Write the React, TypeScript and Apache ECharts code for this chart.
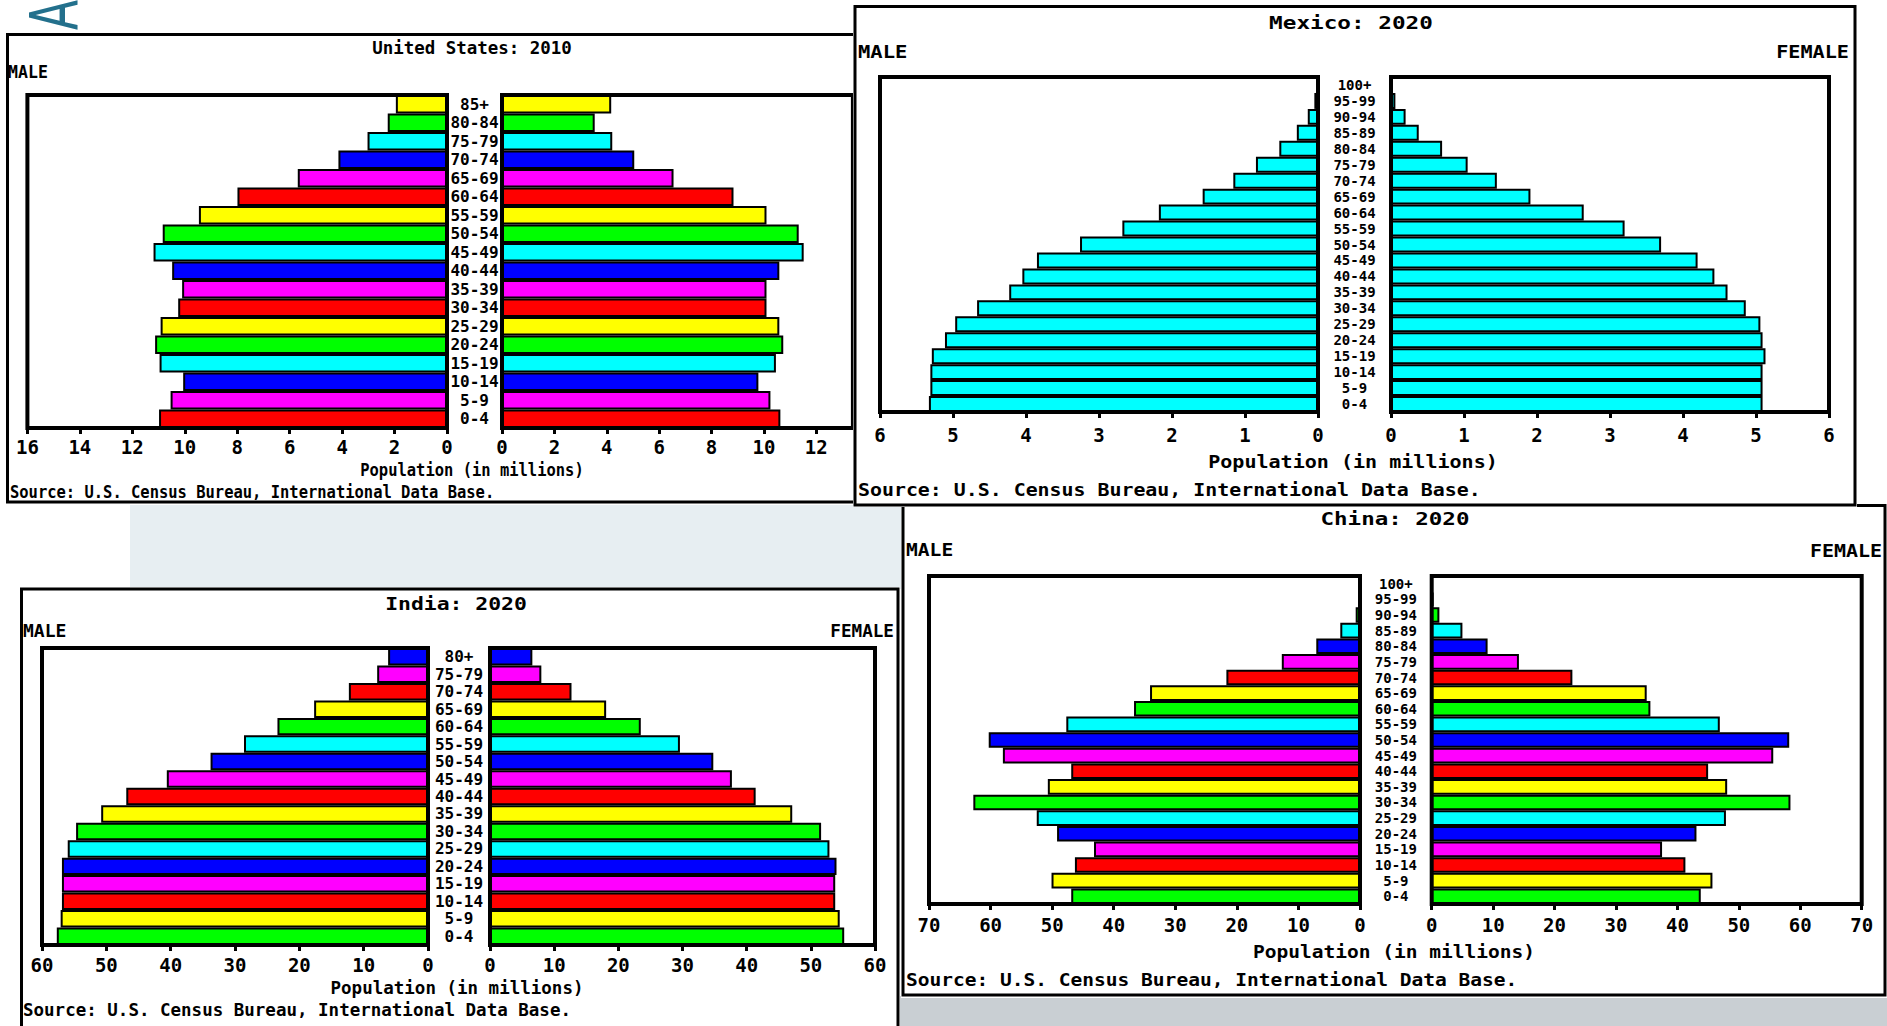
import React, { useEffect, useRef } from "react";
import * as echarts from "echarts";

const FONT = "'DejaVu Sans Mono', 'Liberation Mono', monospace";

// ---------------- DATA ----------------
const AGES_US = ["0-4", "5-9", "10-14", "15-19", "20-24", "25-29", "30-34", "35-39", "40-44", "45-49", "50-54", "55-59", "60-64", "65-69", "70-74", "75-79", "80-84", "85+"];
const US_MALE = [10.98, 10.54, 10.06, 10.96, 11.13, 10.92, 10.25, 10.1, 10.48, 11.19, 10.84, 9.46, 7.99, 5.69, 4.14, 3.03, 2.26, 1.95];
const US_FEMALE = [10.63, 10.25, 9.79, 10.46, 10.74, 10.59, 10.1, 10.1, 10.59, 11.52, 11.33, 10.1, 8.84, 6.55, 5.05, 4.21, 3.54, 4.17];

const AGES_21 = ["0-4", "5-9", "10-14", "15-19", "20-24", "25-29", "30-34", "35-39", "40-44", "45-49", "50-54", "55-59", "60-64", "65-69", "70-74", "75-79", "80-84", "85-89", "90-94", "95-99", "100+"];
const MX_MALE = [5.33, 5.31, 5.31, 5.29, 5.11, 4.97, 4.67, 4.23, 4.05, 3.85, 3.26, 2.68, 2.18, 1.58, 1.16, 0.85, 0.53, 0.29, 0.14, 0.05, 0.02];
const MX_FEMALE = [5.09, 5.09, 5.09, 5.13, 5.09, 5.06, 4.86, 4.61, 4.43, 4.2, 3.7, 3.2, 2.64, 1.91, 1.45, 1.05, 0.7, 0.38, 0.2, 0.06, 0.02];

const AGES_IN = ["0-4", "5-9", "10-14", "15-19", "20-24", "25-29", "30-34", "35-39", "40-44", "45-49", "50-54", "55-59", "60-64", "65-69", "70-74", "75-79", "80+"];
const IN_MALE = [57.7, 57.1, 56.9, 56.9, 56.9, 56.0, 54.7, 50.8, 46.9, 40.6, 33.8, 28.6, 23.4, 17.7, 12.3, 7.9, 6.2];
const IN_FEMALE = [55.2, 54.5, 53.8, 53.8, 54.0, 52.9, 51.6, 47.1, 41.4, 37.7, 34.8, 29.6, 23.5, 18.1, 12.7, 8.0, 6.6];

const CN_MALE = [46.9, 50.1, 46.3, 43.2, 49.2, 52.5, 62.8, 50.7, 46.9, 58.0, 60.3, 47.7, 36.7, 34.1, 21.7, 12.7, 7.1, 3.2, 0.7, 0.1, 0];
const CN_FEMALE = [43.8, 45.7, 41.3, 37.5, 43.1, 47.9, 58.4, 48.1, 45.0, 55.6, 58.2, 46.9, 35.6, 35.0, 22.9, 14.2, 9.1, 5.0, 1.25, 0.3, 0.05];

const TITLES = ["United States: 2010", "Mexico: 2020", "India: 2020", "China: 2020"];
const AXIS_MAX = [16, 6, 60, 70];
// the US female axis is cropped by the Mexico panel: only 0..13.4 is visible
const AXIS_MAX_FEMALE = [13.4, 6, 60, 70];
const AXIS_STEP = [2, 1, 10, 10];
const SOURCE = "Source: U.S. Census Bureau, International Data Base.";
const POP_LABEL = "Population (in millions)";

const RAINBOW = ["#ff0000", "#ff00ff", "#0000ff", "#00ffff", "#00ff00", "#ffff00"];

type Panel = {
  left: number; top: number; width: number; height: number;
  border: [number, number, number, number];
  title: string; titleX: number; titleY: number; titleSX: number;
  maleX: number; labelY: number; maleSX: number; femaleX?: number; femaleSX?: number;
  gTop: number; gHeight: number; mLeft: number; mWidth: number; fLeft: number; fWidth: number;
  max: number; fMax: number; step: number; tickMargin: number; ageFont: number;
  ages: string[]; male: number[]; female: number[]; colors: string[];
  popX: number; popY: number; popSX: number; srcX: number; srcY: number; srcSX: number;
};

const US_UNIT = 419 / 16;

const PANELS: Panel[] = [
  {
    left: 6, top: 33, width: 960, height: 472, border: [1.5, 1.5, 955, 467.5],
    title: TITLES[0], titleX: 466, titleY: 15, titleSX: 0.97,
    maleX: 2, labelY: 39, maleSX: 0.92,
    gTop: 62, gHeight: 333, mLeft: 21.4, mWidth: 419.6, fLeft: 496, fWidth: US_UNIT * AXIS_MAX_FEMALE[0],
    max: AXIS_MAX[0], fMax: AXIS_MAX_FEMALE[0], step: AXIS_STEP[0], tickMargin: 9, ageFont: 16,
    ages: AGES_US, male: US_MALE, female: US_FEMALE, colors: AGES_US.map((_, i) => RAINBOW[i % 6]),
    popX: 466, popY: 437, popSX: 0.91, srcX: 4, srcY: 459, srcSX: 0.91,
  },
  {
    left: 853, top: 4, width: 1004, height: 503, border: [2, 2.5, 1000, 498.5],
    title: TITLES[1], titleX: 498, titleY: 19, titleSX: 1.26,
    maleX: 5, labelY: 48, maleSX: 1.14, femaleX: 996, femaleSX: 1.12,
    gTop: 73, gHeight: 335, mLeft: 27, mWidth: 438, fLeft: 538, fWidth: 438,
    max: AXIS_MAX[1], fMax: AXIS_MAX_FEMALE[1], step: AXIS_STEP[1], tickMargin: 13, ageFont: 14,
    ages: AGES_21, male: MX_MALE, female: MX_FEMALE, colors: AGES_21.map(() => "#00ffff"),
    popX: 500, popY: 458, popSX: 1.18, srcX: 5, srcY: 486, srcSX: 1.17,
  },
  {
    left: 20, top: 587, width: 880, height: 439, border: [1.5, 2, 876.5, 500],
    title: TITLES[2], titleX: 436, titleY: 17.5, titleSX: 1.19,
    maleX: 3, labelY: 43, maleSX: 1.0, femaleX: 874, femaleSX: 0.98,
    gTop: 61, gHeight: 297, mLeft: 22, mWidth: 386, fLeft: 470, fWidth: 385,
    max: AXIS_MAX[2], fMax: AXIS_MAX_FEMALE[2], step: AXIS_STEP[2], tickMargin: 10, ageFont: 16,
    ages: AGES_IN, male: IN_MALE, female: IN_FEMALE, colors: AGES_IN.map((_, i) => RAINBOW[(i + 4) % 6]),
    popX: 437, popY: 401, popSX: 1.03, srcX: 3, srcY: 423, srcSX: 1.03,
  },
  {
    left: 901, top: 504, width: 986, height: 494, border: [2, 1.5, 982, 489.5],
    title: TITLES[3], titleX: 494, titleY: 14.5, titleSX: 1.25,
    maleX: 5, labelY: 46, maleSX: 1.09, femaleX: 981, femaleSX: 1.11,
    gTop: 72, gHeight: 328, mLeft: 28, mWidth: 431, fLeft: 530.7, fWidth: 430,
    max: AXIS_MAX[3], fMax: AXIS_MAX_FEMALE[3], step: AXIS_STEP[3], tickMargin: 11, ageFont: 14,
    ages: AGES_21, male: CN_MALE, female: CN_FEMALE, colors: AGES_21.map((_, i) => RAINBOW[(i + 4) % 6]),
    popX: 493, popY: 448, popSX: 1.15, srcX: 5, srcY: 476, srcSX: 1.15,
  },
];

function txt(t: string, x: number, y: number, size: number, sx: number, align: string = "center") {
  return {
    type: "text", x, y, scaleX: sx, silent: true, z: 50,
    style: {
      text: t, font: `bold ${size}px ${FONT}`, fill: "#000",
      textAlign: align, textVerticalAlign: "middle", verticalAlign: "middle",
    },
  };
}

function buildOption(p: Panel): any {
  const gap = p.fLeft - (p.mLeft + p.mWidth);
  const gridBase = { show: true, borderColor: "#000", borderWidth: 4, backgroundColor: "transparent", top: p.gTop, height: p.gHeight };
  const xAxisBase = (gridIndex: number, inverse: boolean, max: number) => {
    const aligned = Math.abs(max / p.step - Math.round(max / p.step)) < 1e-9;
    return {
      type: "value", gridIndex, min: 0, max, interval: p.step, inverse,
      axisLine: { show: false },
      axisTick: { show: true, length: 6, lineStyle: { color: "#000", width: 3 } },
      splitLine: { show: false },
      axisLabel: { show: true, color: "#000", fontFamily: FONT, fontWeight: "bold", fontSize: 19, margin: p.tickMargin, showMinLabel: true, showMaxLabel: aligned },
    };
  };
  const graphics: any[] = [
    { type: "rect", shape: { x: p.border[0], y: p.border[1], width: p.border[2], height: p.border[3] }, style: { fill: "none", stroke: "#000", lineWidth: 3 }, silent: true, z: 40 },
    txt(p.title, p.titleX, p.titleY, 18, p.titleSX),
    txt("MALE", p.maleX, p.labelY, 18, p.maleSX, "left"),
    txt(POP_LABEL, p.popX, p.popY, 17, p.popSX),
    txt(SOURCE, p.srcX, p.srcY, 17, p.srcSX, "left"),
  ];
  if (p.femaleX !== undefined) graphics.push(txt("FEMALE", p.femaleX, p.labelY, 18, p.femaleSX || 1, "right"));
  const barStyle = (vals: number[]) => vals.map((v, i) => ({ value: v, itemStyle: { color: p.colors[i] } }));
  return {
    animation: false,
    textStyle: { fontFamily: FONT },
    grid: [
      { ...gridBase, left: p.mLeft, width: p.mWidth },
      { ...gridBase, left: p.fLeft, width: p.fWidth },
    ],
    xAxis: [xAxisBase(0, true, p.max), xAxisBase(1, false, p.fMax)],
    yAxis: [
      {
        type: "category", gridIndex: 0, data: p.ages, position: "right",
        axisLine: { show: false }, axisTick: { show: false }, splitLine: { show: false },
        axisLabel: { show: true, interval: 0, align: "center", margin: gap / 2, color: "#000", fontFamily: FONT, fontWeight: "bold", fontSize: p.ageFont },
      },
      {
        type: "category", gridIndex: 1, data: p.ages,
        axisLine: { show: false }, axisTick: { show: false }, splitLine: { show: false }, axisLabel: { show: false },
      },
    ],
    series: [
      { type: "bar", name: "Male", xAxisIndex: 0, yAxisIndex: 0, data: barStyle(p.male), barCategoryGap: "0%", silent: true, itemStyle: { borderColor: "#000", borderWidth: 2 } },
      { type: "bar", name: "Female", xAxisIndex: 1, yAxisIndex: 1, data: barStyle(p.female), barCategoryGap: "0%", silent: true, itemStyle: { borderColor: "#000", borderWidth: 2 } },
    ],
    graphic: graphics,
  };
}

function PanelChart({ p, z }: { p: Panel; z: number }) {
  const ref = useRef<HTMLDivElement>(null);
  useEffect(() => {
    const chart = echarts.init(ref.current as HTMLDivElement, undefined, { renderer: "svg" });
    chart.setOption(buildOption(p));
    return () => chart.dispose();
  }, []);
  return <div ref={ref} style={{ position: "absolute", left: p.left, top: p.top, width: p.width, height: p.height, background: "#fff", zIndex: z }} />;
}

function Background() {
  const ref = useRef<HTMLDivElement>(null);
  useEffect(() => {
    const chart = echarts.init(ref.current as HTMLDivElement, undefined, { renderer: "svg" });
    chart.setOption({
      animation: false,
      graphic: [
        { type: "rect", shape: { x: 130, y: 503, width: 775, height: 86 }, style: { fill: "#e7eef2" }, silent: true },
        { type: "rect", shape: { x: 898, y: 996, width: 989, height: 30 }, style: { fill: "#c9cfd3" }, silent: true },
        {
          type: "text", x: 54, y: 15, rotation: Math.PI / 2, scaleY: 1.5, silent: true,
          style: { text: "A", font: "44px 'DejaVu Sans'", fill: "#23708c", textAlign: "center", textVerticalAlign: "middle", verticalAlign: "middle" },
        },
      ],
    });
    return () => chart.dispose();
  }, []);
  return <div ref={ref} style={{ position: "absolute", left: 0, top: 0, width: 1887, height: 1026, zIndex: 0 }} />;
}

export default function App() {
  return (
    <div style={{ position: "fixed", left: 0, top: 0, width: 1887, height: 1026, overflow: "hidden", background: "#fff" }}>
      <Background />
      <PanelChart p={PANELS[0]} z={1} />
      <PanelChart p={PANELS[2]} z={1} />
      <PanelChart p={PANELS[3]} z={2} />
      <PanelChart p={PANELS[1]} z={3} />
    </div>
  );
}
